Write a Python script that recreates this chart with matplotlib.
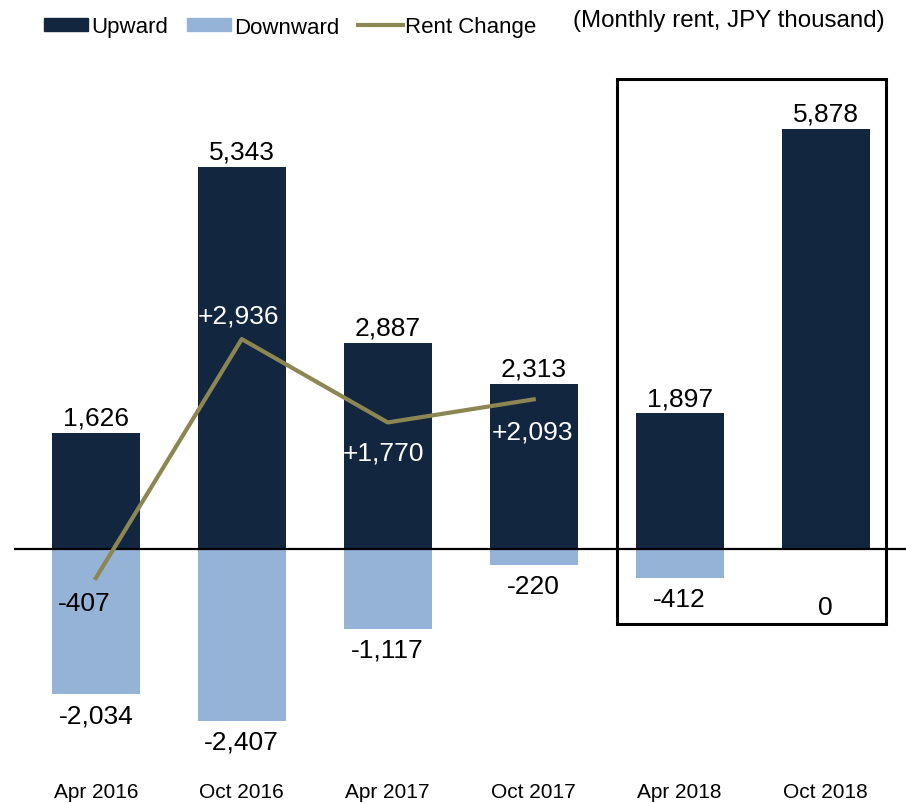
import matplotlib.pyplot as plt
from matplotlib.patches import Rectangle, Patch
from matplotlib.lines import Line2D

plt.rcParams['font.family'] = ['Liberation Sans', 'DejaVu Sans']

periods = ['Apr 2016', 'Oct 2016', 'Apr 2017', 'Oct 2017', 'Apr 2018', 'Oct 2018']
upward = [1626, 5343, 2887, 2313, 1897, 5878]
downward = [-2034, -2407, -1117, -220, -412, 0]
rent_change = [-407, 2936, 1770, 2093]
rent_labels = ['-407', '+2,936', '+1,770', '+2,093']

dark = '#13263f'
light = '#95b3d7'
olive = '#8c8653'

fig = plt.figure(figsize=(9.06, 8.04), dpi=100)
ax = fig.add_axes([14 / 906, 64 / 804, 892 / 906, 680 / 804])

x = list(range(len(periods)))
ax.bar(x, upward, width=0.6, color=dark)
ax.bar(x, downward, width=0.6, color=light)
ax.axhline(0, color='black', lw=1.6)
ax.plot(x[:len(rent_change)], rent_change, color=olive, lw=3)

# value labels above / below the bars
for i, v in enumerate(upward):
    ax.annotate(f'{v:,}', (i, v), xytext=(0, 6), textcoords='offset points',
                ha='center', va='baseline', fontsize=19)
for i, v in enumerate(downward):
    off = -20 if v != 0 else -47
    ax.annotate(f'{v:,}', (i, v), xytext=(0, off), textcoords='offset points',
                ha='center', va='baseline', fontsize=19)

# rent change labels
offs = [(-8, -23), (-2, 12), (-3, -27), (-1, -28)]
cols = ['black', 'white', 'white', 'white']
for i, (v, t) in enumerate(zip(rent_change, rent_labels)):
    ax.annotate(t, (i, v), xytext=offs[i], textcoords='offset points',
                ha='center', va='baseline', fontsize=19, color=cols[i])

# highlight box around 2018
ax.add_patch(Rectangle((3.568, -1049), 5.411 - 3.568, 6573 + 1049,
                       fill=False, ec='black', lw=2.2, zorder=5))

ax.set_xlim(-0.56, 5.55)
ax.set_ylim(-2657, 6853)
ax.set_xticks(x)
ax.set_xticklabels(periods, fontsize=15)
ax.set_yticks([])
ax.tick_params(axis='x', length=0, pad=31)
for s in ax.spines.values():
    s.set_visible(False)

handles = [Patch(color=dark), Patch(color=light), Line2D([], [], color=olive, lw=3)]
fig.legend(handles, ['Upward', 'Downward', 'Rent Change'], loc='center left',
           bbox_to_anchor=(44 / 906, 1 - 28 / 804), ncol=3, frameon=False, fontsize=16,
           borderpad=0, borderaxespad=0, handlelength=2.0, handleheight=0.55,
           handletextpad=0.12, columnspacing=0.85)
fig.text(885 / 906, 1 - 21 / 804, '(Monthly rent, JPY thousand)', ha='right',
         va='center', fontsize=17.4)

fig.savefig('out.png', dpi=100)
